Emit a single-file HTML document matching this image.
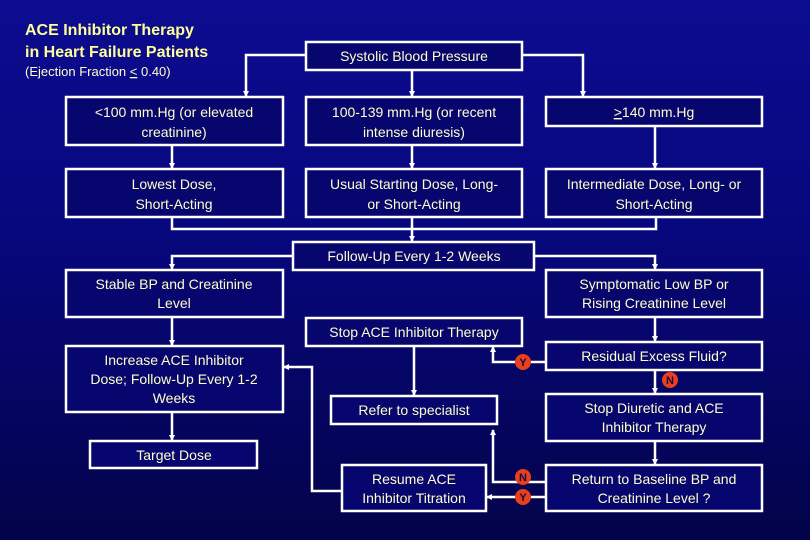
<!DOCTYPE html>
<html><head><style>
html,body{margin:0;padding:0;}
body{width:810px;height:540px;overflow:hidden;background:linear-gradient(#0c0c90 0%,#07077c 45%,#03034a 100%);}
svg{display:block}
text{font-family:"Liberation Sans",Arial,sans-serif;fill:#ffffcc;font-size:14px;}
.b{fill:#06066e;stroke:#fff;stroke-width:2.5}
.l{stroke:#fff;stroke-width:2.5;fill:none}
.c{fill:#e8401c}
.ct{fill:#1a0a40;font-weight:bold;font-size:11px}
</style></head><body>
<svg width="810" height="540" viewBox="0 0 810 540">
<defs><marker id="a" markerWidth="6" markerHeight="6" refX="5" refY="3" orient="auto" markerUnits="userSpaceOnUse"><path d="M0,0 L6,3 L0,6z" fill="#fff"/></marker></defs>
<text x="25" y="35" style="font-size:16px;font-weight:bold;fill:#ffff99">ACE Inhibitor Therapy</text>
<text x="25" y="57" style="font-size:16px;font-weight:bold;fill:#ffff99">in Heart Failure Patients</text>
<text x="25" y="76" style="font-size:13px;fill:#ffffcc">(Ejection Fraction <tspan text-decoration="underline">&lt;</tspan> 0.40)</text>
<path class="l" d="M306,55 H246 V96" marker-end="url(#a)"/>
<path class="l" d="M522,55 H583 V96" marker-end="url(#a)"/>
<path class="l" d="M412,70 V96" marker-end="url(#a)"/>
<path class="l" d="M172,145 V168" marker-end="url(#a)"/>
<path class="l" d="M412,145 V168" marker-end="url(#a)"/>
<path class="l" d="M655,126 V168" marker-end="url(#a)"/>
<path class="l" d="M172,217 V229 H656 V217 M412,217 V241" marker-end="url(#a)"/>
<path class="l" d="M293,256 H172 V269" marker-end="url(#a)"/>
<path class="l" d="M534,256 H655 V269" marker-end="url(#a)"/>
<path class="l" d="M172,317 V345" marker-end="url(#a)"/>
<path class="l" d="M172,412 V440" marker-end="url(#a)"/>
<path class="l" d="M414,346 V395" marker-end="url(#a)"/>
<path class="l" d="M655,317 V341" marker-end="url(#a)"/>
<path class="l" d="M655,370 V393" marker-end="url(#a)"/>
<path class="l" d="M655,441 V464" marker-end="url(#a)"/>
<path class="l" d="M546,362 H493 V347" marker-end="url(#a)"/>
<path class="l" d="M546,482 H493 V430" marker-end="url(#a)"/>
<path class="l" d="M546,497 H487" marker-end="url(#a)"/>
<path class="l" d="M342,491 H312 V367 H284" marker-end="url(#a)"/>
<rect class="b" x="306" y="42" width="216" height="28"/><text x="414" y="61" text-anchor="middle">Systolic Blood Pressure</text>
<rect class="b" x="66" y="97" width="217" height="48"/><text x="174" y="117" text-anchor="middle">&lt;100 mm.Hg (or elevated</text><text x="174" y="137" text-anchor="middle">creatinine)</text>
<rect class="b" x="306" y="97" width="216" height="48"/><text x="414" y="117" text-anchor="middle">100-139 mm.Hg (or recent</text><text x="414" y="137" text-anchor="middle">intense diuresis)</text>
<rect class="b" x="546" y="97" width="216" height="29"/><text x="654" y="117" text-anchor="middle"><tspan text-decoration="underline">&gt;</tspan>140 mm.Hg</text>
<rect class="b" x="66" y="169" width="217" height="48"/><text x="174" y="189" text-anchor="middle">Lowest Dose,</text><text x="174" y="209" text-anchor="middle">Short-Acting</text>
<rect class="b" x="306" y="169" width="216" height="48"/><text x="414" y="189" text-anchor="middle">Usual Starting Dose, Long-</text><text x="414" y="209" text-anchor="middle">or Short-Acting</text>
<rect class="b" x="546" y="169" width="216" height="48"/><text x="654" y="189" text-anchor="middle">Intermediate Dose, Long- or</text><text x="654" y="209" text-anchor="middle">Short-Acting</text>
<rect class="b" x="293" y="242" width="241" height="28"/><text x="414" y="261" text-anchor="middle">Follow-Up Every 1-2 Weeks</text>
<rect class="b" x="66" y="270" width="217" height="47"/><text x="174" y="289" text-anchor="middle">Stable BP and Creatinine</text><text x="174" y="308" text-anchor="middle">Level</text>
<rect class="b" x="546" y="270" width="216" height="47"/><text x="654" y="289" text-anchor="middle">Symptomatic Low BP or</text><text x="654" y="308" text-anchor="middle">Rising Creatinine Level</text>
<rect class="b" x="306" y="318" width="216" height="28"/><text x="414" y="337" text-anchor="middle">Stop ACE Inhibitor Therapy</text>
<rect class="b" x="66" y="346" width="217" height="66"/><text x="174" y="365" text-anchor="middle">Increase ACE Inhibitor</text><text x="174" y="384" text-anchor="middle">Dose; Follow-Up Every 1-2</text><text x="174" y="403" text-anchor="middle">Weeks</text>
<rect class="b" x="546" y="342" width="216" height="28"/><text x="654" y="361" text-anchor="middle">Residual Excess Fluid?</text>
<rect class="b" x="331" y="396" width="166" height="28"/><text x="414" y="415" text-anchor="middle">Refer to specialist</text>
<rect class="b" x="546" y="394" width="216" height="47"/><text x="654" y="413" text-anchor="middle">Stop Diuretic and ACE</text><text x="654" y="432" text-anchor="middle">Inhibitor Therapy</text>
<rect class="b" x="90" y="441" width="167" height="27"/><text x="174" y="460" text-anchor="middle">Target Dose</text>
<rect class="b" x="342" y="465" width="144" height="46"/><text x="414" y="484" text-anchor="middle">Resume ACE</text><text x="414" y="503" text-anchor="middle">Inhibitor Titration</text>
<rect class="b" x="546" y="465" width="216" height="46"/><text x="654" y="484" text-anchor="middle">Return to Baseline BP and</text><text x="654" y="503" text-anchor="middle">Creatinine Level ?</text>
<circle class="c" cx="523" cy="362" r="8"/><text class="ct" x="523" y="366" text-anchor="middle">Y</text>
<circle class="c" cx="670" cy="380" r="8"/><text class="ct" x="670" y="384" text-anchor="middle">N</text>
<circle class="c" cx="523" cy="477" r="8"/><text class="ct" x="523" y="481" text-anchor="middle">N</text>
<circle class="c" cx="523" cy="497" r="8"/><text class="ct" x="523" y="501" text-anchor="middle">Y</text>
</svg>
</body></html>
